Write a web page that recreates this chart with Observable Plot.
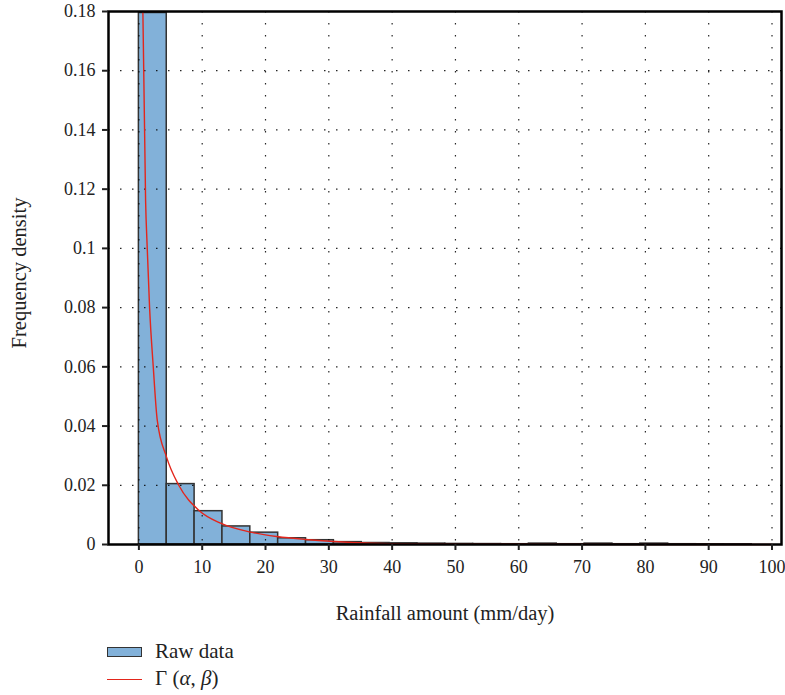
<!DOCTYPE html>
<html>
<head>
<meta charset="utf-8">
<script src="https://cdn.jsdelivr.net/npm/d3@7"></script>
<script src="https://cdn.jsdelivr.net/npm/@observablehq/plot@0.6"></script>
<style>
  body { margin: 0; background: #fff; font-family: "Liberation Serif", "DejaVu Serif", serif; }
  #wrap { position: relative; width: 785px; height: 695px; }
  #legend { position: absolute; left: 0; top: 0; width: 785px; height: 695px; pointer-events: none; }
  .item { position: absolute; left: 107px; font-size: 21px; color: #222; }
  .sw { position: absolute; left: 0; width: 35px; }
  .lab { position: absolute; left: 48px; white-space: nowrap; }
</style>
</head>
<body>
<div id="wrap">
  <div id="chart"></div>
  <div id="legend">
    <div class="item" style="top:639px;">
      <div class="sw" style="top:8px;height:8px;background:#82b1d9;border:1.5px solid #333;box-sizing:content-box;width:33px;"></div>
      <div class="lab" style="top:0px;">Raw data</div>
    </div>
    <div class="item" style="top:666px;">
      <div class="sw" style="top:13px;height:0;border-top:1.6px solid #e3261c;"></div>
      <div class="lab" style="top:0px;">Γ (<i>α</i>, <i>β</i>)</div>
    </div>
  </div>
</div>
<script>
// Histogram bins (mm/day), width 4.4
const binWidth = 4.4;
const densities = [0.1795, 0.0204, 0.01125, 0.0061, 0.004, 0.0021, 0.00145, 0.0008, 0.0005,
  0.0004, 0.0003, 0.0002, 0.00015, 0.0001, 0.0003, 0.0001, 0.0003, 0.0001, 0.0003, 0.0001, 0.00008, 0.00005];

// Fitted gamma curve
const curveX = [0.63, 1.06, 1.32, 1.69, 2.27, 2.9, 4.37, 6.3, 9.5, 12.9, 17.6, 21.8, 26.3, 30.8, 36.6, 45, 60, 80, 100];
const curveY = [0.18, 0.116, 0.10, 0.08, 0.06, 0.042, 0.0295, 0.02, 0.0115, 0.0072, 0.0042, 0.0027, 0.0017, 0.001, 0.00045, 0.0002, 0.00006, 0.00001, 0];

const xTicks = [0, 10, 20, 30, 40, 50, 60, 70, 80, 90, 100];
const yTicks = [0, 0.02, 0.04, 0.06, 0.08, 0.1, 0.12, 0.14, 0.16, 0.18];

const bins = densities.map((d, i) => ({x1: i * binWidth, x2: (i + 1) * binWidth, y: d}));
const curve = curveX.map((x, i) => ({x, y: curveY[i]}));

const chart = Plot.plot({
  width: 785,
  height: 630,
  marginTop: 11,
  marginBottom: 86,
  marginLeft: 108,
  marginRight: 4,
  style: {fontFamily: "Liberation Serif, DejaVu Serif, serif", fontSize: "18px", color: "#222", background: "#fff"},
  x: {domain: [-4.8, 101.5]},
  y: {domain: [0, 0.18]},
  marks: [
    Plot.rect(bins, {x1: "x1", x2: "x2", y1: 0, y2: "y", fill: "#82b1d9", stroke: "#333", strokeWidth: 1.5}),
    Plot.gridX(xTicks, {stroke: "#000", strokeOpacity: 0.85, strokeWidth: 1.2, strokeDasharray: "1.5,10.5"}),
    Plot.gridY(yTicks, {stroke: "#000", strokeOpacity: 0.85, strokeWidth: 1.2, strokeDasharray: "1.5,10.5"}),
    Plot.line(curve, {x: "x", y: "y", stroke: "#e3261c", strokeWidth: 1.4, curve: "monotone-x"}),
    Plot.frame({stroke: "#000", strokeWidth: 2.5}),
    Plot.axisX(xTicks, {tickSize: 6, tickPadding: 10, strokeWidth: 2, label: null, fontSize: 18, tickFormat: d => String(d)}),
    Plot.axisY(yTicks, {tickSize: 6, tickPadding: 7, strokeWidth: 2, label: null, fontSize: 18, tickFormat: d => String(+d.toFixed(2))}),
    Plot.text(["Rainfall amount (mm/day)"], {frameAnchor: "bottom", dy: 69, lineAnchor: "middle", textAnchor: "middle", fontSize: 20.5, fill: "#222"}),
    Plot.text(["Frequency density"], {frameAnchor: "left", textAnchor: "middle", dx: -89, dy: -5, rotate: -90, lineAnchor: "middle", fontSize: 20.5, fill: "#222"})
  ]
});
document.getElementById("chart").appendChild(chart);
</script>
</body>
</html>
